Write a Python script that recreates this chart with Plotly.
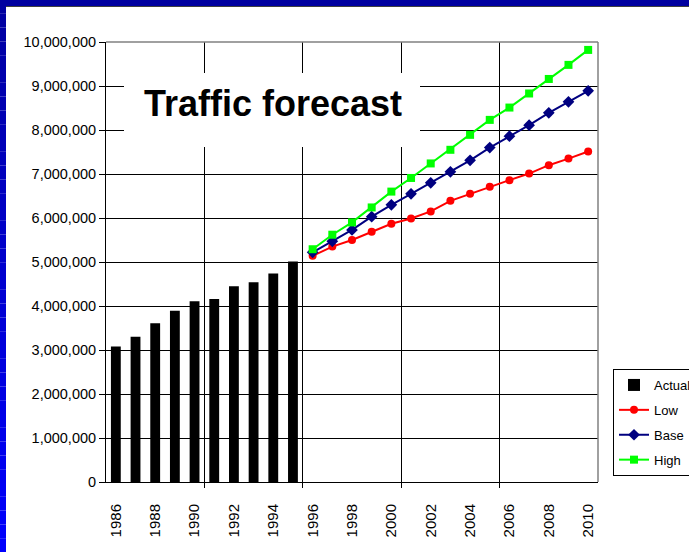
import plotly.graph_objects as go

# ---- data (values in millions) ----
actual_years = [1986, 1987, 1988, 1989, 1990, 1991, 1992, 1993, 1994, 1995]
actual_vals = [3.08, 3.30, 3.61, 3.89, 4.11, 4.16, 4.45, 4.54, 4.74, 5.01]

fc_years = [1996, 1997, 1998, 1999, 2000, 2001, 2002, 2003, 2004, 2005, 2006, 2007, 2008, 2009, 2010]
low_vals = [5.14, 5.35, 5.50, 5.69, 5.87, 5.99, 6.15, 6.39, 6.55, 6.71, 6.86, 7.01, 7.20, 7.35, 7.51]
base_vals = [5.22, 5.47, 5.73, 6.03, 6.30, 6.55, 6.80, 7.05, 7.31, 7.60, 7.86, 8.11, 8.39, 8.64, 8.89]
high_vals = [5.29, 5.62, 5.90, 6.24, 6.60, 6.91, 7.24, 7.55, 7.89, 8.23, 8.51, 8.83, 9.16, 9.48, 9.82]

x_tick_labels = [str(y) for y in range(1986, 2011, 2)]
title_text = "Traffic forecast"

M = 1_000_000
W, H = 689, 552
L, R, T, B = 106, 598, 42, 482  # plot area pixel box

def px_x(p):
    return (p - L) / (R - L)

def px_y(p):
    return (B - p) / (B - T)

FONT = "Liberation Sans, Arial, sans-serif"

fig = go.Figure()
fig.add_trace(go.Bar(
    x=actual_years, y=[v * M for v in actual_vals], name="Actual",
    marker=dict(color="black", line=dict(width=0)), width=0.5,
    legendgroup="a",
))
fig.add_trace(go.Scatter(
    x=fc_years, y=[v * M for v in low_vals], name="Low", mode="lines+markers",
    line=dict(color="#FF0000", width=2),
    marker=dict(symbol="circle", size=8, color="#FF0000"),
    legendgroup="l",
))
fig.add_trace(go.Scatter(
    x=fc_years, y=[v * M for v in base_vals], name="Base", mode="lines+markers",
    line=dict(color="#000080", width=2),
    marker=dict(symbol="diamond", size=9, color="#000080"),
    legendgroup="b",
))
fig.add_trace(go.Scatter(
    x=fc_years, y=[v * M for v in high_vals], name="High", mode="lines+markers",
    line=dict(color="#00FF00", width=2),
    marker=dict(symbol="square", size=8, color="#00FF00"),
    legendgroup="h",
))
# invisible helper trace so the overlay axis (category boundary gridlines) is drawn
fig.add_trace(go.Scatter(x=[1985.5], y=[0], xaxis="x2", mode="markers",
                         marker=dict(opacity=0), showlegend=False, hoverinfo="skip"))

shapes = []
# blue gradient frame: left strip
n = 40
for i in range(n):
    y0p = H * i / n
    y1p = H * (i + 1) / n
    t = (i + 0.5) / n
    b = int(160 + (255 - 160) * t)
    shapes.append(dict(type="rect", xref="paper", yref="paper",
                       x0=px_x(0), x1=px_x(6), y0=px_y(y1p), y1=px_y(y0p),
                       fillcolor=f"rgb(0,0,{b})", line=dict(width=0), layer="above"))
# top strip
shapes.append(dict(type="rect", xref="paper", yref="paper",
                   x0=px_x(0), x1=px_x(W), y0=px_y(6), y1=px_y(0),
                   fillcolor="rgb(0,0,160)", line=dict(width=0), layer="above"))
shapes.append(dict(type="line", xref="paper", yref="paper",
                   x0=px_x(6), x1=px_x(W), y0=px_y(6.5), y1=px_y(6.5),
                   line=dict(color="#404040", width=1), layer="above"))
# plot-area gray border top and right
shapes.append(dict(type="line", xref="paper", yref="paper", x0=0, x1=1, y0=1, y1=1,
                   line=dict(color="#808080", width=1.5), layer="above"))
shapes.append(dict(type="line", xref="paper", yref="paper", x0=1, x1=1, y0=0, y1=1,
                   line=dict(color="#808080", width=1.5), layer="above"))
# white box behind the title
shapes.append(dict(type="rect", xref="paper", yref="paper",
                   x0=px_x(124), x1=px_x(420), y0=px_y(147), y1=px_y(73),
                   fillcolor="white", line=dict(width=0), layer="above"))

fig.update_layout(
    width=W, height=H,
    margin=dict(l=L, r=W - R, t=T, b=H - B, pad=0, autoexpand=False),
    paper_bgcolor="white", plot_bgcolor="white",
    font=dict(family=FONT, size=15, color="black"),
    showlegend=True,
    bargap=0.5,
    xaxis=dict(
        range=[1985.5, 2010.5], tickmode="array",
        tickvals=list(range(1986, 2011, 2)), ticktext=x_tick_labels,
        tickangle=-90, ticks="", showgrid=False, zeroline=False,
        showline=True, linecolor="black", linewidth=1,
        ticklabelstandoff=15, tickfont=dict(size=15),
    ),
    xaxis2=dict(
        range=[1985.5, 2010.5], overlaying="x", anchor="y", side="bottom",
        tickmode="array", tickvals=[1990.5, 1995.5, 2000.5, 2005.5],
        showticklabels=False, ticks="outside", ticklen=5, tickcolor="black",
        showgrid=True, gridcolor="black", gridwidth=1, zeroline=False, showline=False,
    ),
    yaxis=dict(
        range=[0, 10 * M], dtick=M, tickformat=",", ticks="outside", ticklen=6,
        tickcolor="black", showgrid=True, gridcolor="black", gridwidth=1,
        showline=True, linecolor="black", linewidth=1, zeroline=False,
        tickfont=dict(size=14.5),
    ),
    legend=dict(
        x=px_x(613), y=px_y(369), xanchor="left", yanchor="top",
        bgcolor="white", bordercolor="black", borderwidth=1,
        font=dict(size=13, family=FONT), tracegroupgap=5,
        traceorder="grouped",
    ),
    annotations=[dict(
        text="<b>" + title_text + "</b>", xref="paper", yref="paper",
        x=px_x(273), y=px_y(104), xanchor="center", yanchor="middle",
        showarrow=False,
        font=dict(size=36, family=FONT, color="black"),
    )],
    shapes=shapes,
)

fig.write_html("out.html")
